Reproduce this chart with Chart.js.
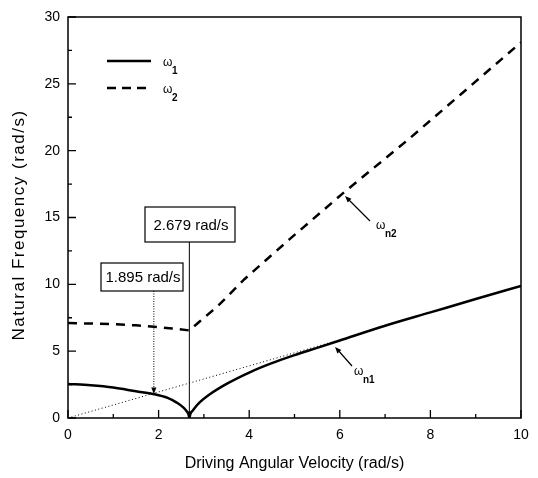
<!DOCTYPE html>
<html>
<head>
<meta charset="utf-8">
<script src="https://cdn.jsdelivr.net/npm/chart.js@4.4.0/dist/chart.umd.min.js"></script>
<style>
  html, body { margin: 0; padding: 0; background: #fff; }
</style>
</head>
<body>
<canvas id="freqChart" width="538" height="478"></canvas>
<script>
// Values
const omega1X = [0, 0.5, 1.0, 1.5, 1.9, 2.2, 2.4, 2.55, 2.62, 2.66, 2.679, 2.7, 2.75, 2.9, 3.1, 3.5, 4.0, 4.5, 5.0, 5.5, 6.0, 7.0, 8.0, 9.0, 10.0];
const omega1Y = [2.55, 2.45, 2.28, 2.0, 1.78, 1.5, 1.15, 0.78, 0.5, 0.28, 0, 0.3, 0.55, 1.15, 1.7, 2.55, 3.4, 4.1, 4.7, 5.25, 5.8, 6.9, 7.9, 8.9, 9.88];

const omega2X = [0, 0.5, 1.0, 1.5, 1.9, 2.3, 2.679, 2.9, 3.3, 3.9, 4.9, 6.1, 7.5, 8.7, 10.0];
const omega2Y = [7.1, 7.07, 7.02, 6.93, 6.82, 6.7, 6.55, 7.2, 8.35, 10.4, 13.4, 16.9, 20.8, 24.3, 28.1];

// dotted reference line (natural frequency = driving speed)
const refX = [0, 6.0];
const refY = [0, 5.85];

const xTicks = [0, 2, 4, 6, 8, 10];
const yTicks = [0, 5, 10, 15, 20, 25, 30];

const markerSpeeds = [1.895, 2.679];
const markerLabels = ['1.895 rad/s', '2.679 rad/s'];

const yTitle = 'Natural Frequency (rad/s)';

const FONT = "'Liberation Sans', Arial, sans-serif";

function toPoints(xs, ys) {
  return xs.map((v, i) => ({ x: v, y: ys[i] }));
}

function arrowHead(ctx, x1, y1, x2, y2, size) {
  const ang = Math.atan2(y2 - y1, x2 - x1);
  ctx.beginPath();
  ctx.moveTo(x2, y2);
  ctx.lineTo(x2 - size * Math.cos(ang - 0.38), y2 - size * Math.sin(ang - 0.38));
  ctx.lineTo(x2 - size * Math.cos(ang + 0.38), y2 - size * Math.sin(ang + 0.38));
  ctx.closePath();
  ctx.fill();
}

function drawOmega(ctx, x, y, sub) {
  ctx.textAlign = 'left';
  ctx.textBaseline = 'middle';
  ctx.font = '12px ' + FONT;
  ctx.fillText('\u03c9', x, y);
  ctx.font = 'bold 10px ' + FONT;
  ctx.fillText(sub, x + 9, y + 8);
}

// Frame with inward ticks
const frameAndTicks = {
  id: 'frameAndTicks',
  afterDatasetsDraw(chart) {
    const { ctx, chartArea: a, scales: { x, y } } = chart;
    ctx.save();
    ctx.strokeStyle = '#000';
    ctx.lineWidth = 1.5;
    ctx.strokeRect(a.left, a.top, a.right - a.left, a.bottom - a.top);
    ctx.lineWidth = 1.3;
    ctx.beginPath();
    xTicks.forEach((v, i) => {
      let px = x.getPixelForValue(v);
      ctx.moveTo(px, a.bottom); ctx.lineTo(px, a.bottom - 8);
      if (i < xTicks.length - 1) {
        px = x.getPixelForValue(v + 1);
        ctx.moveTo(px, a.bottom); ctx.lineTo(px, a.bottom - 4);
      }
    });
    yTicks.forEach((v, i) => {
      let py = y.getPixelForValue(v);
      ctx.moveTo(a.left, py); ctx.lineTo(a.left + 8, py);
      if (i < yTicks.length - 1) {
        py = y.getPixelForValue(v + 2.5);
        ctx.moveTo(a.left, py); ctx.lineTo(a.left + 4, py);
      }
    });
    ctx.stroke();
    ctx.restore();
  }
};

// Legend, marker boxes, curve labels and the (wide) y title
const annotations = {
  id: 'annotations',
  afterDraw(chart) {
    const { ctx, chartArea: a, scales: { x, y } } = chart;
    ctx.save();
    ctx.fillStyle = '#000';
    ctx.strokeStyle = '#000';

    // y axis title, stretched like the original
    ctx.save();
    ctx.translate(19, 225);
    ctx.rotate(-Math.PI / 2);
    ctx.font = '17px ' + FONT;
    ctx.letterSpacing = '1.5px';
    ctx.textAlign = 'center';
    ctx.textBaseline = 'middle';
    ctx.fillText(yTitle, 0, 0);
    ctx.restore();

    // legend
    ctx.lineWidth = 2.5;
    ctx.beginPath();
    ctx.moveTo(107, 61); ctx.lineTo(151, 61);
    ctx.stroke();
    ctx.setLineDash([9, 6]);
    ctx.beginPath();
    ctx.moveTo(107, 88); ctx.lineTo(151, 88);
    ctx.stroke();
    ctx.setLineDash([]);
    drawOmega(ctx, 163, 63, '1');
    drawOmega(ctx, 163, 90, '2');

    // marker boxes
    const boxes = [
      { left: 101, top: 263, w: 82, h: 28 },
      { left: 145, top: 207, w: 90, h: 35 }
    ];
    ctx.font = '15px ' + FONT;
    ctx.textAlign = 'center';
    ctx.textBaseline = 'middle';
    ctx.lineWidth = 1.2;
    boxes.forEach((b, i) => {
      ctx.fillStyle = '#fff';
      ctx.fillRect(b.left, b.top, b.w, b.h);
      ctx.strokeRect(b.left, b.top, b.w, b.h);
      ctx.fillStyle = '#000';
      ctx.fillText(markerLabels[i], b.left + b.w / 2 + 1, b.top + b.h / 2 + 1);
    });

    // 1.895 marker: dotted drop to the omega1 curve
    const px1 = x.getPixelForValue(markerSpeeds[0]);
    const tip1 = y.getPixelForValue(1.8);
    ctx.lineWidth = 1;
    ctx.setLineDash([1, 1.5]);
    ctx.beginPath();
    ctx.moveTo(px1, boxes[0].top + boxes[0].h);
    ctx.lineTo(px1, tip1 - 4);
    ctx.stroke();
    ctx.setLineDash([]);
    arrowHead(ctx, px1, tip1 - 20, px1, tip1, 7);

    // 2.679 marker: solid drop to the axis
    const px2 = x.getPixelForValue(markerSpeeds[1]);
    ctx.beginPath();
    ctx.moveTo(px2, boxes[1].top + boxes[1].h);
    ctx.lineTo(px2, a.bottom - 4);
    ctx.stroke();
    arrowHead(ctx, px2, a.bottom - 20, px2, a.bottom, 7);

    // curve labels
    ctx.lineWidth = 1.2;
    ctx.beginPath();
    ctx.moveTo(370, 221); ctx.lineTo(347, 198);
    ctx.moveTo(352, 366); ctx.lineTo(337, 349);
    ctx.stroke();
    arrowHead(ctx, 370, 221, 345, 196, 7);
    arrowHead(ctx, 352, 366, 335, 347, 7);
    drawOmega(ctx, 376, 226, 'n2');
    drawOmega(ctx, 354, 372, 'n1');

    ctx.restore();
  }
};

const freqChart = new Chart(document.getElementById('freqChart').getContext('2d'), {
  type: 'scatter',
  data: {
    datasets: [
      {
        label: 'ω1',
        data: toPoints(omega1X, omega1Y),
        showLine: true,
        borderColor: '#000',
        borderWidth: 2.5,
        pointRadius: 0,
        cubicInterpolationMode: 'monotone'
      },
      {
        label: 'ω2',
        data: toPoints(omega2X, omega2Y),
        showLine: true,
        borderColor: '#000',
        borderWidth: 2.5,
        borderDash: [9, 7],
        pointRadius: 0,
        tension: 0
      },
      {
        label: 'reference',
        data: toPoints(refX, refY),
        showLine: true,
        borderColor: '#000',
        borderWidth: 1,
        borderDash: [1, 2.5],
        pointRadius: 0
      }
    ]
  },
  options: {
    responsive: false,
    animation: false,
    devicePixelRatio: 1,
    layout: { padding: { top: 17, right: 17, left: 0, bottom: 0 } },
    plugins: {
      legend: { display: false },
      tooltip: { enabled: false }
    },
    scales: {
      x: {
        type: 'linear',
        min: 0,
        max: 10,
        afterFit: (s) => { s.height = 60; },
        grid: { display: false, drawTicks: false },
        border: { display: false },
        ticks: {
          stepSize: 2,
          padding: 9,
          color: '#000',
          font: { family: FONT, size: 14 }
        },
        title: {
          display: true,
          text: 'Driving Angular Velocity (rad/s)',
          color: '#000',
          font: { family: FONT, size: 16 },
          padding: { top: 0, bottom: 5 }
        }
      },
      y: {
        type: 'linear',
        min: 0,
        max: 30,
        afterFit: (s) => { s.width = 68; },
        grid: { display: false, drawTicks: false },
        border: { display: false },
        ticks: {
          stepSize: 5,
          padding: 8,
          color: '#000',
          font: { family: FONT, size: 14 }
        },
        title: { display: false }
      }
    }
  },
  plugins: [frameAndTicks, annotations]
});
</script>
</body>
</html>
